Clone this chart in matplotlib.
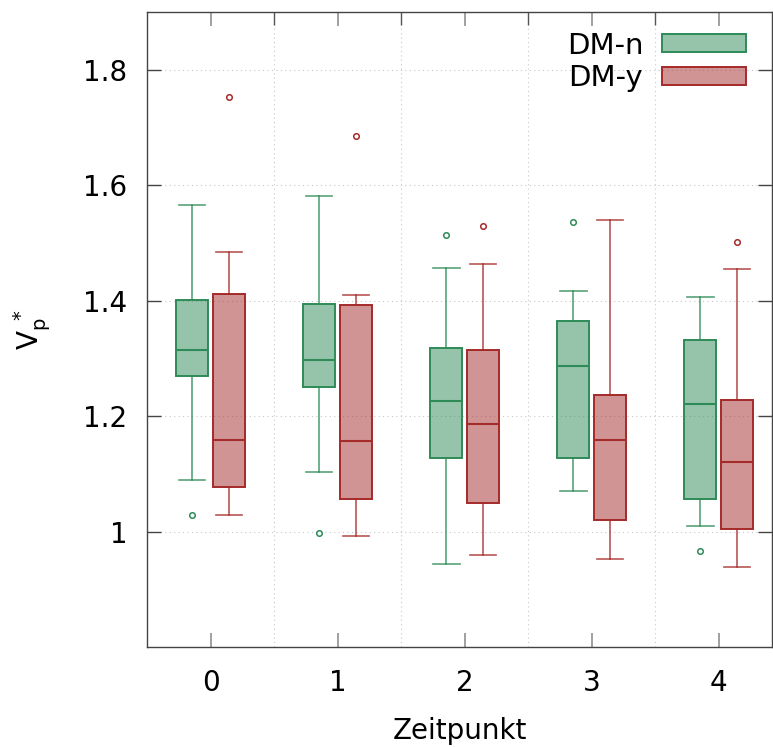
import numpy as np
import matplotlib
matplotlib.use('Agg')
import matplotlib.pyplot as plt
from matplotlib.patches import Patch
from matplotlib.ticker import FixedLocator

# values
zeitpunkt = [0, 1, 2, 3, 4]
groups = ['DM-n', 'DM-y']

dmn_whislo = [1.090, 1.104, 0.944, 1.070, 1.009]
dmn_q1     = [1.269, 1.251, 1.127, 1.127, 1.057]
dmn_med    = [1.314, 1.297, 1.227, 1.286, 1.221]
dmn_q3     = [1.401, 1.394, 1.318, 1.365, 1.331]
dmn_whishi = [1.566, 1.581, 1.457, 1.417, 1.406]
dmn_fliers = [[1.028], [0.997], [1.513], [1.537], [0.966]]

dmy_whislo = [1.029, 0.993, 0.960, 0.953, 0.938]
dmy_q1     = [1.078, 1.056, 1.050, 1.020, 1.004]
dmy_med    = [1.159, 1.157, 1.186, 1.159, 1.120]
dmy_q3     = [1.412, 1.393, 1.315, 1.236, 1.228]
dmy_whishi = [1.485, 1.409, 1.464, 1.540, 1.454]
dmy_fliers = [[1.753], [1.686], [1.529], [], [1.502]]

yticks = [1.0, 1.2, 1.4, 1.6, 1.8]
ytick_labels = ['1', '1.2', '1.4', '1.6', '1.8']

green = '#2e8b57'
red = '#a52a2a'

def stats(lo, q1, med, q3, hi, fl):
  return [dict(whislo=a, q1=b, med=c, q3=d, whishi=e, fliers=f)
          for a, b, c, d, e, f in zip(lo, q1, med, q3, hi, fl)]

plt.rcParams['font.family'] = 'DejaVu Sans'
plt.rcParams['font.size'] = 20

fig = plt.figure(figsize=(7.73, 7.47), dpi=100)
ax = fig.add_axes([147/773, 100/747, 625/773, 635/747])

x = np.array(zeitpunkt, dtype=float)
for st, off, col in ((stats(dmn_whislo, dmn_q1, dmn_med, dmn_q3, dmn_whishi, dmn_fliers), -0.145, green),
                     (stats(dmy_whislo, dmy_q1, dmy_med, dmy_q3, dmy_whishi, dmy_fliers), 0.145, red)):
  ax.bxp(st, positions=x+off, widths=0.25, patch_artist=True, manage_ticks=False,
         boxprops=dict(facecolor=matplotlib.colors.to_rgba(col, 0.5), edgecolor=col, linewidth=1.4),
         medianprops=dict(color=col, linewidth=1.5),
         whiskerprops=dict(color=col, linewidth=1.2, alpha=0.8),
         capprops=dict(color=col, linewidth=1.2, alpha=0.8),
         capwidths=0.21,
         flierprops=dict(marker='o', markersize=4, markerfacecolor='none',
                         markeredgecolor=col, markeredgewidth=1.1))

ax.set_xlim(-0.5, 4.42)
ax.set_ylim(0.8, 1.9)
ax.set_xticks(zeitpunkt)
ax.set_yticks(yticks)
ax.set_yticklabels(ytick_labels)
ax.xaxis.set_minor_locator(FixedLocator([0.5, 1.5, 2.5, 3.5]))
ax.tick_params(axis='x', which='major', direction='in', length=10, width=1.3,
               color='#999999', top=True, pad=16)
ax.tick_params(axis='x', which='minor', direction='in', length=9, width=1,
               color='#555555', top=True, bottom=False)
ax.tick_params(axis='y', which='major', direction='in', length=10, width=1,
               color='#444444', right=True, pad=14)
ax.grid(which='minor', axis='x', color='#c8c8c8', linestyle=(0, (1, 3)), linewidth=0.8)
ax.grid(which='major', axis='y', color='#c8c8c8', linestyle=(0, (1, 3)), linewidth=0.8)
for s in ax.spines.values():
  s.set_color('#444444'); s.set_linewidth(1.0)

ax.set_xlabel('Zeitpunkt', labelpad=14)
ax.set_ylabel(r'$\mathregular{V_p^{\ *}}$', labelpad=22)

handles = [Patch(facecolor=matplotlib.colors.to_rgba(c, 0.5), edgecolor=c, linewidth=1.4) for c in (green, red)]
ax.legend(handles, groups, loc='upper right', bbox_to_anchor=(1.0032, 1.0126),
          frameon=False, markerfirst=False,
          handlelength=2.88, handleheight=0.58, handletextpad=0.65, labelspacing=0.15,
          borderaxespad=0.55, fontsize=21)

fig.savefig('out.png', dpi=100)
